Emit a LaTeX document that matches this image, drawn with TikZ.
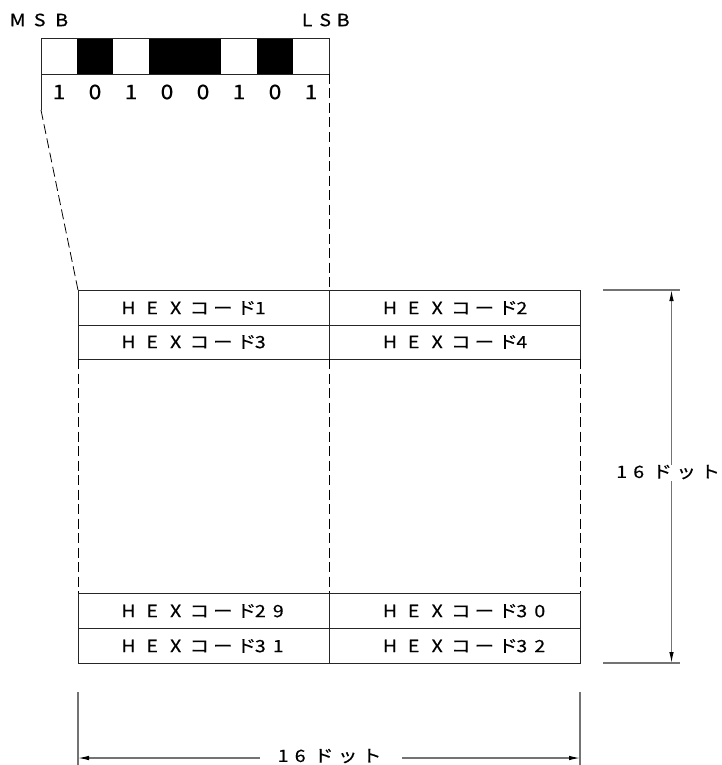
\documentclass[tikz,border=0pt]{standalone}
\usepackage{fontspec}
\setmainfont{Noto Sans CJK JP}
\newfontfamily\jpw[FakeStretch=1.15,FakeBold=0.4]{Noto Sans CJK JP}
\usetikzlibrary{arrows.meta}
\newcommand\cbox[2]{\makebox[#1pt]{#2}}
\newcommand\hexlbl[1]{\cbox{23.6}{H}\cbox{23.6}{E}\cbox{23.6}{X}\cbox{23.6}{コ}\cbox{23.6}{ー}\cbox{23.6}{ド}\hspace{-7pt}#1}
\newcommand\dg[1]{\cbox{18}{#1}}
\newcommand\dotlbl{\cbox{17}{1}\cbox{17}{6}\hspace{3pt}\cbox{24}{ド}\cbox{24}{ッ}\cbox{24}{ト}}
\begin{document}
\begin{tikzpicture}[x=1pt,y=-1pt,
  solidline/.style={line width=0.9pt,black!85},
  dashline/.style={line width=0.8pt,black,dash pattern=on 10pt off 4.5pt},
  dimline/.style={line width=1.1pt,black!55},
  dimarrow/.style={dimline,-{Latex[length=11pt,width=4.5pt,black]}},
  txt/.style={font=\jpw\fontsize{17}{17}\selectfont,inner sep=0pt,anchor=west},
  bitnum/.style={font=\jpw\fontsize{20}{20}\selectfont,inner sep=0pt},
  bitcell/.style={fill=black}]
\useasboundingbox (0,0) rectangle (721,765);

% MSB / LSB
\node[txt] (msb) at (6.5,20) {\cbox{22}{M}\cbox{22}{S}\cbox{22}{B}};
\node[txt] (lsb) at (298,20) {\cbox{18}{L}\cbox{18}{S}\cbox{18}{B}};

% bit cells
\foreach \i/\b in {0/0,1/1,2/0,3/1,4/1,5/0,6/1,7/0}{
  \ifnum\b=1 \fill[bitcell] ({41+36*\i},38) rectangle ({41+36*(\i+1)},74);\fi
}
\draw[solidline] (41,110) -- (41,38) -- (329.5,38) -- (329.5,74);
\draw[solidline] (41,74) -- (329.5,74);
\foreach \i/\d in {0/1,1/0,2/1,3/0,4/0,5/1,6/0,7/1}{
  \node[bitnum] (bit\i) at ({59+36*\i},92) {\d};
}

% projection lines
\draw[dashline] (41,110) -- (78,290);
\draw[dashline] (329.5,74) -- (329.5,290);

% grid
\draw[solidline] (78,290) rectangle (580,359);
\draw[solidline] (78,325) -- (580,325);
\draw[solidline] (329.5,290) -- (329.5,359);
\draw[solidline] (78,593) rectangle (580,663);
\draw[solidline] (78,628) -- (580,628);
\draw[solidline] (329.5,593) -- (329.5,663);
\draw[dashline] (78,359) -- (78,593);
\draw[dashline] (329.5,359) -- (329.5,593);
\draw[dashline] (580,359) -- (580,593);

\node[txt] (h1) at (116.5,308) {\hexlbl{\dg{1}}};
\node[txt] (h2) at (378,308) {\hexlbl{\dg{2}}};
\node[txt] (h3) at (116.5,342) {\hexlbl{\dg{3}}};
\node[txt] (h4) at (378,342) {\hexlbl{\dg{4}}};
\node[txt] (h29) at (116.5,611) {\hexlbl{\dg{2}\dg{9}}};
\node[txt] (h30) at (378,611) {\hexlbl{\dg{3}\dg{0}}};
\node[txt] (h31) at (116.5,646) {\hexlbl{\dg{3}\dg{1}}};
\node[txt] (h32) at (378,646) {\hexlbl{\dg{3}\dg{2}}};

% right dimension
\coordinate (rt1) at (603,290);
\coordinate (rt2) at (680,290);
\coordinate (rb1) at (603,663);
\coordinate (rb2) at (680,663);
\coordinate (rtop) at (671.5,290);
\coordinate (rbot) at (671.5,663);
\coordinate (rgapt) at (671.5,465);
\coordinate (rgapb) at (671.5,481);
\draw[dimline] (rt1) -- (rt2);
\draw[dimline] (rb1) -- (rb2);
\draw[dimarrow] (rgapt) -- (rtop);
\draw[dimarrow] (rgapb) -- (rbot);
\node[txt] (dimr) at (613,472) {\dotlbl};

% bottom dimension
\coordinate (bl1) at (78,692);
\coordinate (bl2) at (78,765);
\coordinate (br1) at (580,692);
\coordinate (br2) at (580,765);
\coordinate (bleft) at (78,758);
\coordinate (bright) at (580,758);
\coordinate (bgapl) at (260,758);
\coordinate (bgapr) at (402,758);
\draw[dimline] (bl1) -- (bl2);
\draw[dimline] (br1) -- (br2);
\draw[dimarrow] (bgapl) -- (bleft);
\draw[dimarrow] (bgapr) -- (bright);
\node[txt] (dimb) at (274.5,756) {\dotlbl};
\end{tikzpicture}
\end{document}
